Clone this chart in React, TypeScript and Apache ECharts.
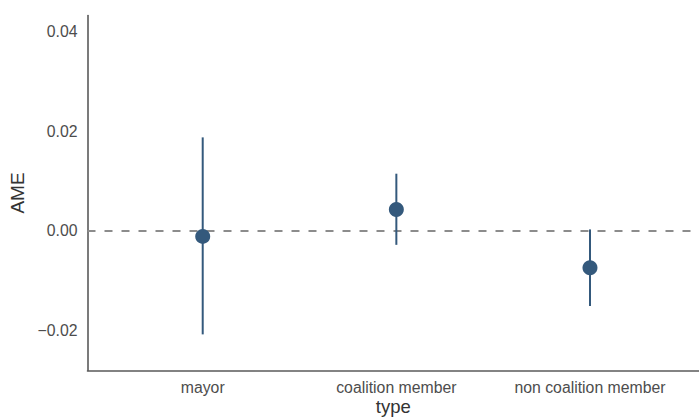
import React, { useEffect, useRef } from "react";
import * as echarts from "echarts";

const categories = ["mayor", "coalition member", "non coalition member"];
const estimates = [-0.0011, 0.0043, -0.0074];
const lowers = [-0.0208, -0.0028, -0.0151];
const uppers = [0.0188, 0.0115, 0.0003];
const yTicks = [-0.02, 0, 0.02, 0.04];

const FONT = "Liberation Sans, Arial, sans-serif";
const POINT_COLOR = "#34597c";

export default function App() {
  const ref = useRef<HTMLDivElement>(null);
  useEffect(() => {
    if (!ref.current) return;
    const chart = echarts.init(ref.current, null, { renderer: "svg" });
    const errData = categories.map((_, i) => [i + 1, lowers[i], uppers[i]]);
    const ptData = categories.map((_, i) => [i + 1, estimates[i]]);
    chart.setOption({
      animation: false,
      textStyle: { fontFamily: FONT },
      grid: {
        left: 87.5,
        right: 0,
        top: 15.5,
        bottom: 47.5,
        containLabel: false,
        outerBoundsMode: "none",
      },
      xAxis: {
        type: "value",
        min: 0.405,
        max: 3.563,
        name: "type",
        nameLocation: "middle",
        nameGap: 27,
        nameMoveOverlap: false,
        nameTextStyle: { fontSize: 18.5, lineHeight: 18, color: "#333333", fontFamily: FONT },
        axisLine: { show: true, onZero: false, lineStyle: { color: "#5a5a5a", width: 1.6 } },
        axisTick: { show: false },
        splitLine: { show: false },
        axisLabel: {
          customValues: [1, 2, 3],
          formatter: (v: number) => categories[Math.round(v) - 1] ?? "",
          fontSize: 15.8,
          color: "#4d4d4d",
          margin: 9,
          fontFamily: FONT,
        },
      },
      yAxis: {
        type: "value",
        min: -0.02806,
        max: 0.0433,
        name: "AME",
        nameLocation: "middle",
        nameGap: 61,
        nameMoveOverlap: false,
        nameTextStyle: { fontSize: 19, color: "#333333", fontFamily: FONT },
        axisLine: { show: true, onZero: false, lineStyle: { color: "#5a5a5a", width: 1.6 } },
        axisTick: { show: false },
        splitLine: { show: false },
        axisLabel: {
          customValues: yTicks,
          formatter: (v: number) => {
            const s = Math.abs(v) < 1e-12 ? "0.00" : v.toFixed(2);
            return s.replace("-", "\u2212");
          },
          fontSize: 15.8,
          color: "#4d4d4d",
          margin: 10,
          fontFamily: FONT,
        },
      },
      series: [
        {
          type: "custom",
          data: errData,
          encode: { x: 0, y: [1, 2] },
          renderItem: (_params: any, api: any) => {
            const x = api.value(0);
            const p1 = api.coord([x, api.value(1)]);
            const p2 = api.coord([x, api.value(2)]);
            return {
              type: "line",
              shape: { x1: p1[0], y1: p1[1], x2: p2[0], y2: p2[1] },
              style: { stroke: POINT_COLOR, lineWidth: 2 },
            };
          },
          z: 3,
        },
        {
          type: "scatter",
          data: ptData,
          symbol: "circle",
          symbolSize: 15,
          itemStyle: { color: POINT_COLOR, opacity: 1 },
          z: 4,
          markLine: {
            silent: true,
            symbol: ["none", "none"],
            label: { show: false },
            lineStyle: { color: "#8c8c8c", type: [8, 9], width: 2 },
            data: [{ yAxis: 0 }],
            z: 2,
          },
        },
      ],
    });
    return () => chart.dispose();
  }, []);
  return (
    <div
      ref={ref}
      style={{ position: "absolute", left: 0, top: 0, width: 699, height: 418 }}
    />
  );
}
